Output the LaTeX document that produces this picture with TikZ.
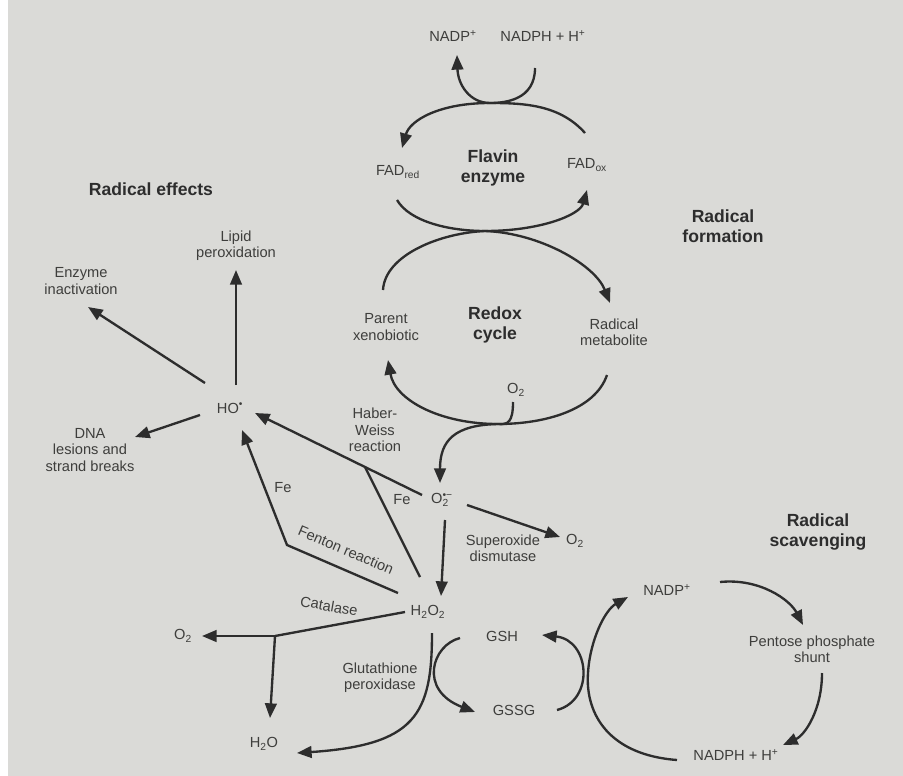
\documentclass[tikz,border=0pt]{standalone}
\usepackage{fontspec}
\setmainfont{Liberation Sans}
\usetikzlibrary{arrows.meta}

\definecolor{paper}{RGB}{218,218,215}
\definecolor{ink}{RGB}{45,45,45}
\definecolor{inklight}{RGB}{62,62,60}

\begin{document}
\begin{tikzpicture}[x=0.3mm,y=-0.3mm,
  lbl/.style={text=inklight,align=center,inner sep=1pt,font=\fontsize{12.5}{14}\selectfont},
  ttl/.style={text=ink,align=center,inner sep=1pt,font=\fontsize{15}{17}\selectfont\bfseries},
  arr/.style={draw=ink,line width=2pt,-{Triangle[length=12.5pt,width=10pt]}},
  ln/.style={draw=ink,line width=2pt}]

  \fill[paper] (0,0) rectangle (903,776);
  \fill[white] (0,0) rectangle (8,776);
  \useasboundingbox (0,0) rectangle (903,776);

  % Flavin enzyme
  \node[lbl] (nadp) at (453,36) {NADP\textsuperscript{+}};
  \node[lbl] (nadph) at (543,36) {NADPH + H\textsuperscript{+}};
  \node[lbl] (fadred) at (398,172) {FAD\textsubscript{red}};
  \node[ttl] (flavin) at (493,168) {Flavin\\enzyme};
  \node[lbl] (fadox) at (587,165) {FAD\textsubscript{ox}};
  \node[ttl] (form) at (723,226) {Radical\\formation};

  % Redox cycle
  \node[lbl] (parent) at (386,327) {Parent\\xenobiotic};
  \node[ttl] (redox) at (495,325) {Redox\\cycle};
  \node[lbl] (metab) at (614,332) {Radical\\metabolite};
  \node[lbl] (o2a) at (516,390) {O\textsubscript{2}};

  % Radical effects
  \node[ttl] (effects) at (151,189) {Radical effects};
  \node[lbl] (lipid) at (236,246) {Lipid\\peroxidation};
  \node[lbl] (enz) at (81,281) {Enzyme\\inactivation};
  \node[lbl] (ho) at (230,408) {HO\textsuperscript{\textbullet}};
  \node[lbl] (dna) at (90,450) {DNA\\lesions and\\strand breaks};
  \node[lbl] (hw) at (375,430) {Haber-\\Weiss\\reaction};
  \node[lbl] (fe1) at (283,488) {Fe};
  \node[lbl] (fe2) at (402,500) {Fe};
  \node[lbl] (o2m) at (442,500) {O\rlap{\textsubscript{2}}\textsuperscript{\textbullet−}};
  \node[lbl] (sod) at (503,548) {Superoxide\\dismutase};
  \node[lbl] (o2b) at (575,541) {O\textsubscript{2}};
  \node[lbl,rotate=-23] (fenton) at (346,550) {Fenton reaction};
  \node[lbl] (h2o2) at (428,612) {H\textsubscript{2}O\textsubscript{2}};
  \node[lbl,rotate=-10] (cat) at (329,606) {Catalase};
  \node[lbl] (o2c) at (183,636) {O\textsubscript{2}};
  \node[lbl] (h2o) at (264,744) {H\textsubscript{2}O};
  \node[lbl] (glut) at (380,678) {Glutathione\\peroxidase};

  % Radical scavenging
  \node[lbl] (gsh) at (502,636) {GSH};
  \node[lbl] (gssg) at (514,710) {GSSG};
  \node[ttl] (scav) at (818,532) {Radical\\scavenging};
  \node[lbl] (nadp2) at (667,590) {NADP\textsuperscript{+}};
  \node[lbl] (shunt) at (812,649) {Pentose phosphate\\shunt};
  \node[lbl] (nadph2) at (736,755) {NADPH + H\textsuperscript{+}};

  \coordinate (top) at (490,103);
  \coordinate (kiss) at (485,231);
  \coordinate (low) at (498,424);
  \coordinate (hwj) at (365,467);
  \coordinate (fbend) at (287,545);
  \coordinate (cj) at (275,636);

  % cycles at the top
  \draw[arr] ([shift={(-8,32)}]nadph.center) .. controls (535,100) and (505,103) .. (top)
    .. controls (470,103) and (458,85) .. ([shift={(4,19)}]nadp.center);
  \draw[arr] ([shift={(-2,-32)}]fadox.center) .. controls (560,105) and (525,103) .. (top)
    .. controls (440,103) and (410,120) .. ([shift={(4,-24)}]fadred.center);
  \draw[arr] ([shift={(-1,28)}]fadred.center) .. controls (410,222) and (450,231) .. (kiss)
    .. controls (540,231) and (580,215) .. ([shift={(0,25)}]fadox.center);
  \draw[arr] ([shift={(-3,-37)}]parent.center) .. controls (385,255) and (440,233) .. (kiss)
    .. controls (540,233) and (595,265) .. ([shift={(-4,-29)}]metab.center);
  \draw[arr] ([shift={(-7,43)}]metab.center) .. controls (595,410) and (545,424) .. (low)
    .. controls (440,424) and (395,400) .. ([shift={(2,33)}]parent.center);
  \draw[arr] ([shift={(-3,12)}]o2a.center) .. controls (513,422) and (508,425) .. (low)
    .. controls (455,425) and (440,440) .. ([shift={(-2,-17)}]o2m.center);

  % hydroxyl radical
  \draw[arr] ([shift={(-25,-25)}]ho.center) -- ([shift={(7,26)}]enz.center);
  \draw[arr] ([shift={(6,-23)}]ho.center) -- ([shift={(0,24)}]lipid.center);
  \draw[arr] ([shift={(-30,7)}]ho.center) -- ([shift={(45,-13)}]dna.center);
  \draw[arr] ([shift={(-20,-5)}]o2m.center) -- ([shift={(25,5)}]ho.center);
  \draw[ln] ([shift={(-8,-35)}]h2o2.center) -- (hwj);
  \draw[arr] ([shift={(-30,-19)}]h2o2.center) -- (fbend) -- ([shift={(12,22)}]ho.center);
  \draw[arr] ([shift={(3,20)}]o2m.center) -- ([shift={(13,-16)}]h2o2.center);
  \draw[arr] ([shift={(25,5)}]o2m.center) -- ([shift={(-15,-4)}]o2b.center);

  % peroxide
  \draw[ln] ([shift={(-23,0)}]h2o2.center) -- (cj);
  \draw[arr] (cj) -- ([shift={(19,0)}]o2c.center);
  \draw[arr] (cj) -- ([shift={(6,-26)}]h2o.center);
  \draw[arr] ([shift={(4,21)}]h2o2.center) .. controls (432,715) and (415,745) .. ([shift={(33,9)}]h2o.center);
  \draw[arr] ([shift={(-42,2)}]gsh.center) .. controls (432,645) and (418,690) .. ([shift={(-39,2)}]gssg.center);
  \draw[arr] ([shift={(43,0)}]gssg.center) .. controls (595,700) and (590,640) .. ([shift={(40,-1)}]gsh.center);

  % NADPH loop
  \draw[arr] ([shift={(53,-8)}]nadp2.center) .. controls (760,578) and (790,600) .. ([shift={(-9,-24)}]shunt.center);
  \draw[arr] ([shift={(10,24)}]shunt.center) .. controls (822,710) and (805,735) .. ([shift={(47,-10)}]nadph2.center);
  \draw[arr] ([shift={(-59,5)}]nadph2.center) .. controls (610,755) and (585,715) .. (588,673)
    .. controls (590,640) and (605,610) .. ([shift={(-39,7)}]nadp2.center);
\end{tikzpicture}
\end{document}
